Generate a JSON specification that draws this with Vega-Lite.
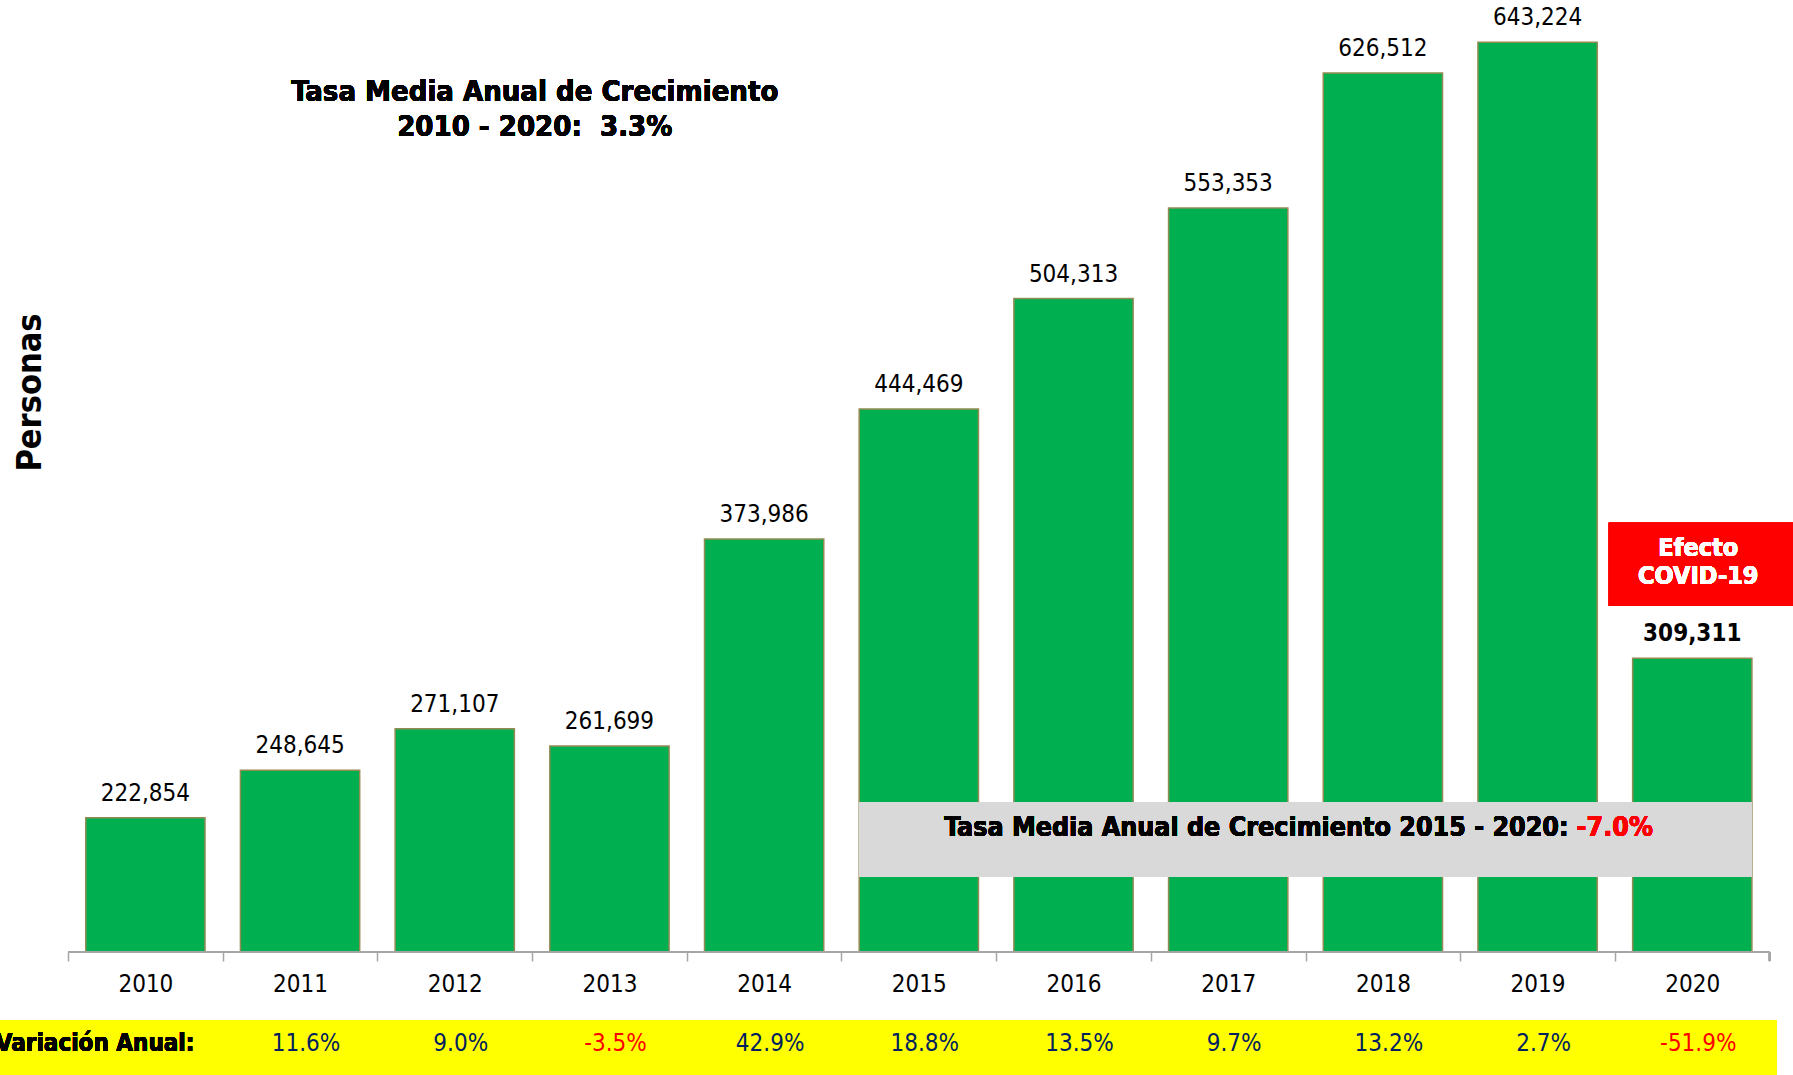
{
  "$schema": "https://vega.github.io/schema/vega-lite/v6.json",
  "width": 1793,
  "height": 1075,
  "autosize": {"type": "none"},
  "padding": 0,
  "background": "white",
  "config": {
    "view": {"stroke": null},
    "font": "DejaVu Sans Condensed, DejaVu Sans",
    "locale": {"number": {"decimal": ".", "thousands": ",", "grouping": [3], "currency": ["$", ""], "minus": "-"}}
  },
  "data": {"values": [
    {"year": "2010", "value": 222854, "var": null},
    {"year": "2011", "value": 248645, "var": 0.116},
    {"year": "2012", "value": 271107, "var": 0.090},
    {"year": "2013", "value": 261699, "var": -0.035},
    {"year": "2014", "value": 373986, "var": 0.429},
    {"year": "2015", "value": 444469, "var": 0.188},
    {"year": "2016", "value": 504313, "var": 0.135},
    {"year": "2017", "value": 553353, "var": 0.097},
    {"year": "2018", "value": 626512, "var": 0.132},
    {"year": "2019", "value": 643224, "var": 0.027},
    {"year": "2020", "value": 309311, "var": -0.519}
  ]},
  "layer": [
    {
      "mark": {"type": "rect", "fill": "#FFFF00"},
      "encoding": {
        "x": {"datum": "2010", "bandPosition": -0.718, "title": null},
        "x2": {"datum": "2020", "bandPosition": 1.2045},
        "y": {"datum": 113190},
        "y2": {"datum": 83000}
      }
    },
    {
      "mark": {"type": "bar", "fill": "#00B050", "stroke": "#948A54", "strokeWidth": 1.5},
      "encoding": {
        "x": {
          "field": "year", "type": "ordinal", "title": null,
          "scale": {"paddingInner": 0.229, "paddingOuter": 0.41, "align": 0.676},
          "axis": {"orient": "bottom", "offset": -123, "title": null, "domain": false,
                   "ticks": true, "tickSize": 9, "tickColor": "#A6A6A6", "tickWidth": 1.5,
                   "tickOffset": -77.35, "labelOffset": 77.35,
                   "labelAngle": 0, "labelAlign": "center", "labelBaseline": "top",
                   "labelFontSize": 24, "labelColor": "#000000", "labelPadding": 11.5}
        },
        "y": {
          "field": "value", "type": "quantitative", "title": "Personas",
          "scale": {"domain": [83376, 666140], "nice": false, "zero": false},
          "axis": {"title": "Personas", "labels": false, "ticks": false, "domain": false, "grid": false,
                   "titleFontSize": 34, "titleFontWeight": "bold", "titleColor": "#000000",
                   "titleX": 40, "titleY": 392, "titleAngle": -90, "titleAlign": "center", "titleBaseline": "alphabetic"}
        },
        "y2": {"datum": 150000}
      }
    },
    {
      "mark": {"type": "rule", "stroke": "#A6A6A6", "strokeWidth": 1.5},
      "encoding": {
        "x": {"datum": "2010", "bandPosition": -0.148, "title": null},
        "x2": {"datum": "2020", "bandPosition": 1.148},
        "y": {"datum": 150000}
      }
    },
    {
      "mark": {"type": "rule", "stroke": "#A6A6A6", "strokeWidth": 1.5},
      "encoding": {
        "x": {"datum": "2020", "bandPosition": 1.148, "title": null},
        "y": {"datum": 150000},
        "y2": {"datum": 145121}
      }
    },
    {
      "transform": [{"filter": "datum.year != '2020'"}],
      "mark": {"type": "text", "fontSize": 24, "baseline": "middle", "dy": -24, "color": "#000000"},
      "encoding": {
        "x": {"field": "year", "type": "ordinal", "title": null},
        "y": {"field": "value", "type": "quantitative"},
        "text": {"field": "value", "type": "quantitative", "format": ","}
      }
    },
    {
      "transform": [{"filter": "datum.year == '2020'"}],
      "mark": {"type": "text", "fontSize": 24, "fontWeight": "bold", "baseline": "middle", "dy": -24, "color": "#000000"},
      "encoding": {
        "x": {"field": "year", "type": "ordinal", "title": null},
        "y": {"field": "value", "type": "quantitative"},
        "text": {"field": "value", "type": "quantitative", "format": ","}
      }
    },
    {
      "transform": [{"filter": "datum.var != null"}],
      "mark": {"type": "text", "fontSize": 24, "baseline": "middle", "dx": 6},
      "encoding": {
        "x": {"field": "year", "type": "ordinal", "title": null},
        "y": {"datum": 100180},
        "text": {"field": "var", "type": "quantitative", "format": ".1%"},
        "color": {"condition": {"test": "datum.var < 0", "value": "#FF0000"}, "value": "#002060"}
      }
    },
    {
      "mark": {"type": "text", "fontSize": 24, "fontWeight": "bold", "align": "right", "baseline": "middle", "dx": 49, "color": "#000000"},
      "encoding": {
        "x": {"datum": "2010", "title": null},
        "y": {"datum": 100180},
        "text": {"value": "Variación Anual:"}
      }
    },
    {
      "mark": {"type": "text", "fontSize": 29, "fontWeight": "bold", "align": "center", "baseline": "middle", "lineHeight": 35, "dx": 80, "color": "#000000"},
      "encoding": {
        "x": {"datum": "2012", "title": null},
        "y": {"datum": 616300},
        "text": {"value": ["Tasa Media Anual de Crecimiento", "2010 - 2020:\u00a0 3.3%"]}
      }
    },
    {
      "mark": {"type": "rect", "fill": "#D9D9D9"},
      "encoding": {
        "x": {"datum": "2015", "bandPosition": 0, "title": null},
        "x2": {"datum": "2020", "bandPosition": 1},
        "y": {"datum": 231370},
        "y2": {"datum": 190710}
      }
    },
    {
      "mark": {"type": "text", "fontSize": 26.6, "fontWeight": "bold", "align": "right", "baseline": "middle", "dx": 31, "color": "#000000"},
      "encoding": {
        "x": {"datum": "2019", "title": null},
        "y": {"datum": 217275},
        "text": {"value": "Tasa Media Anual de Crecimiento 2015 - 2020:"}
      }
    },
    {
      "mark": {"type": "text", "fontSize": 26.6, "fontWeight": "bold", "align": "left", "baseline": "middle", "dx": 39, "color": "#FF0000"},
      "encoding": {
        "x": {"datum": "2019", "title": null},
        "y": {"datum": 217275},
        "text": {"value": "-7.0%"}
      }
    },
    {
      "mark": {"type": "rect", "fill": "#FF0000"},
      "encoding": {
        "x": {"datum": "2020", "bandPosition": -0.2, "title": null},
        "x2": {"datum": "2020", "bandPosition": 1.35},
        "y": {"datum": 382780},
        "y2": {"datum": 337780}
      }
    },
    {
      "mark": {"type": "text", "fontSize": 25, "fontWeight": "bold", "align": "center", "baseline": "middle", "lineHeight": 28, "dx": 6, "color": "#FFFFFF"},
      "encoding": {
        "x": {"datum": "2020", "title": null},
        "y": {"datum": 369060},
        "text": {"value": ["Efecto", "COVID-19"]}
      }
    }
  ]
}
